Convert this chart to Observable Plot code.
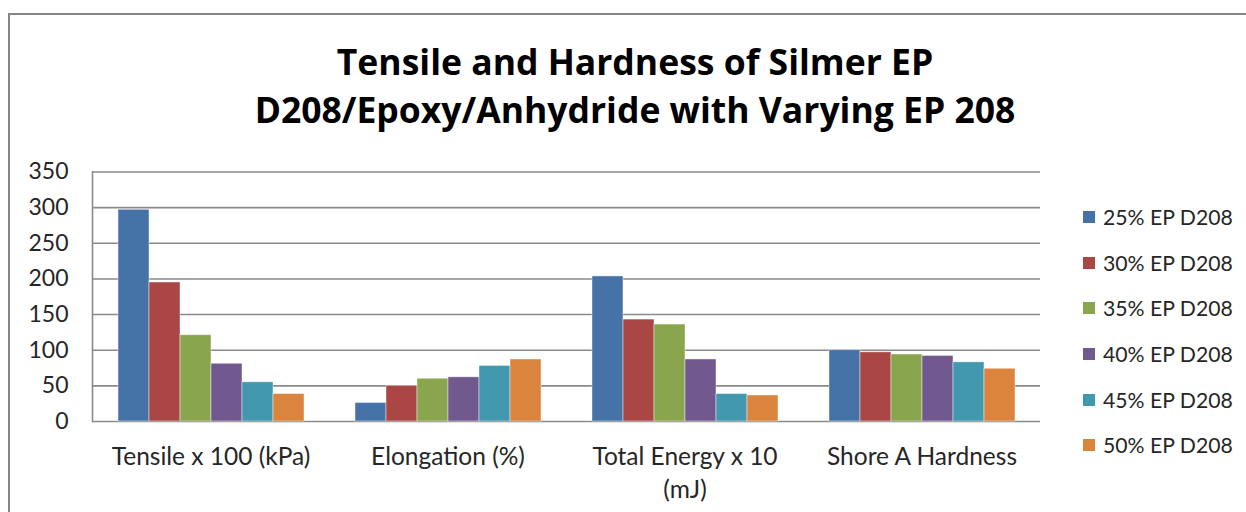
<!DOCTYPE html>
<html>
<head>
<meta charset="utf-8">
<script src="https://cdn.jsdelivr.net/npm/d3@7"></script>
<script src="https://cdn.jsdelivr.net/npm/@observablehq/plot@0.6"></script>
<style>
  html, body { margin: 0; padding: 0; background: #fff; }
  #wrap { position: relative; width: 1246px; height: 512px; overflow: hidden; background: #fff; font-family: Lato, sans-serif; color: #262626; }
  #border { position: absolute; left: 8px; top: 13px; width: 1300px; height: 600px; border-left: 2.5px solid #868686; border-top: 2.5px solid #868686; box-sizing: border-box; }
  #title { position: absolute; left: 0; top: 37px; width: 1270px; text-align: center; font-family: "Open Sans", sans-serif; font-weight: bold; font-size: 35.5px; line-height: 48px; color: #000; }
  #chart { position: absolute; left: 0; top: 150px; }
  #legend { position: absolute; left: 1083px; top: 194px; }
  .row { display: flex; align-items: center; height: 45.7px; font-size: 21.2px; white-space: nowrap; }
  .sw { width: 12px; height: 12px; margin-right: 8px; flex: none; }
</style>
</head>
<body>
<div id="wrap">
  <div id="border"></div>
  <div id="title"></div>
  <div id="chart"></div>
  <div id="legend"></div>
</div>
<script>
const titleLines = ["Tensile and Hardness of Silmer EP", "D208/Epoxy/Anhydride with Varying EP 208"];
const categories = ["Tensile x 100 (kPa)", "Elongation (%)", "Total Energy x 10 (mJ)", "Shore A Hardness"];
const series = ["25% EP D208", "30% EP D208", "35% EP D208", "40% EP D208", "45% EP D208", "50% EP D208"];
const tensile = [297, 195, 121, 81, 55, 38.5];
const elongation = [26, 50, 60, 62, 78, 87];
const energy = [203.5, 143, 136, 87, 38.5, 36.5];
const shoreA = [100, 97, 94, 92, 83, 74];
const yTicks = [0, 50, 100, 150, 200, 250, 300, 350];
const colors = ["#4572A7", "#AA4643", "#89A54E", "#71588F", "#4198AF", "#DB843D"];

const valuesByCategory = [tensile, elongation, energy, shoreA];
const data = categories.flatMap((c, i) => series.map((s, j) => ({category: c, series: s, value: valuesByCategory[i][j]})));

document.getElementById("title").innerHTML = titleLines.map(t => `<div>${t}</div>`).join("");

const chart = Plot.plot({
  width: 1060,
  height: 362,
  marginLeft: 92,
  marginRight: 20,
  marginTop: 21.5,
  marginBottom: 91,
  style: {fontFamily: "Lato, sans-serif", fontSize: "23px", color: "#262626", background: "transparent"},
  fx: {domain: categories, padding: 0, label: null},
  x: {domain: series, paddingInner: 0, paddingOuter: 0.76, axis: null},
  y: {domain: [0, 350], label: null},
  color: {domain: series, range: colors},
  marks: [
    Plot.gridY(yTicks, {stroke: "#8a8a8a", strokeOpacity: 1, strokeWidth: 1.6}),
    Plot.frame({anchor: "left", facetAnchor: "left", stroke: "#8a8a8a", strokeWidth: 1.6}),
    Plot.barY(data, {fx: "category", x: "series", y: "value", fill: "series", stroke: "#ffffff", strokeOpacity: 0.55, strokeWidth: 0.8}),
    Plot.axisY(yTicks, {tickSize: 0, tickPadding: 24, label: null, fill: "#262626"}),
    Plot.axisFx({anchor: "bottom", tickSize: 0, tickPadding: 19, label: null, fontSize: 24.5, lineHeight: 1.38, fill: "#262626",
      tickFormat: d => d.replace(" (mJ)", "\n(mJ)")})
  ]
});
document.getElementById("chart").appendChild(chart);

const legend = d3.select("#legend");
series.forEach((s, i) => {
  const row = legend.append("div").attr("class", "row");
  row.append("div").attr("class", "sw").style("background", colors[i]);
  row.append("span").text(s);
});
</script>
</body>
</html>
